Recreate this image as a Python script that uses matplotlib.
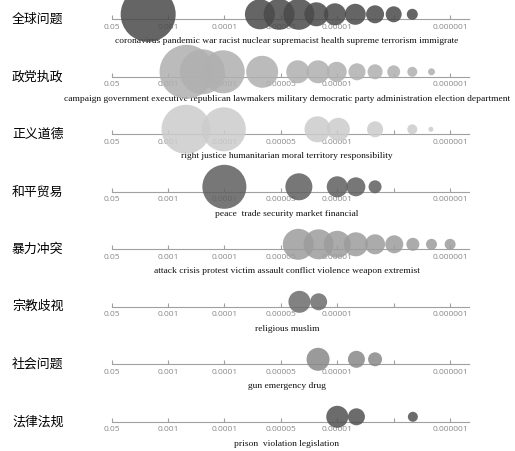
import numpy as np
import matplotlib.pyplot as plt

plt.rcParams['font.family'] = ['Noto Sans CJK SC', 'DejaVu Sans']

categories = ['全球问题', '政党执政', '正义道德', '和平贸易',
              '暴力冲突', '宗教歧视', '社会问题', '法律法规']

tick_labels = ['0.05', '0.001', '0.0001', '0.00005', '0.00001', '', '0.000001']

words = [
    'coronavirus pandemic war racist nuclear supremacist health supreme terrorism immigrate',
    'campaign government executive republican lawmakers military democratic party administration election department',
    'right justice humanitarian moral territory responsibility',
    'peace  trade security market financial',
    'attack crisis protest victim assault conflict violence weapon extremist',
    'religious muslim',
    'gun emergency drug',
    'prison  violation legislation',
]

# bubble positions on the tick scale (0 = 0.05 ... 6 = 0.000001)
pos = [
    [0.65, 2.63, 2.97, 3.32, 3.63, 3.96, 4.32, 4.67, 5.0, 5.33],
    [1.33, 1.61, 1.98, 2.67, 3.3, 3.66, 3.99, 4.35, 4.67, 5.0, 5.33, 5.67],
    [1.32, 1.99, 3.65, 4.02, 4.67, 5.33, 5.66],
    [2.0, 3.32, 4.0, 4.33, 4.67],
    [3.31, 3.67, 4.0, 4.33, 4.67, 5.01, 5.34, 5.67, 6.0],
    [3.33, 3.67],
    [3.66, 4.34, 4.67],
    [4.0, 4.34, 5.34],
]
# bubble diameters in pixels
size = [
    [55, 30, 31, 31, 24, 22, 21, 18, 16, 11],
    [54, 45, 43, 32, 23, 23, 20, 17, 15, 13, 10, 7],
    [49, 44, 26, 23, 16, 10, 5],
    [44, 27, 21, 19, 13],
    [31, 30, 27, 24, 20, 18, 13, 11, 11],
    [22, 17],
    [23, 17, 14],
    [22, 17, 10],
]
colors = ['#4a4a4a', '#b0b0b0', '#cccccc', '#5f5f5f',
          '#9c9c9c', '#6c6c6c', '#888888', '#525252']

W, H = 515, 451
fig = plt.figure(figsize=(W / 100, H / 100), dpi=100)

x0, x1 = 111.5, 469.3
ax_h = 40
for i, cat in enumerate(categories):
    y_axis = 19.3 + 57.5 * i
    ax = fig.add_axes([x0 / W, 1 - y_axis / H, (x1 - x0) / W, ax_h / H])
    ax.set_xlim(0, 6.34)
    ax.set_ylim(0, ax_h)
    for s in ['top', 'left', 'right']:
        ax.spines[s].set_visible(False)
    ax.spines['bottom'].set_color('#a0a0a0')
    ax.spines['bottom'].set_linewidth(0.8)
    ax.set_yticks([])
    ax.set_xticks(range(7))
    ax.set_xticklabels(tick_labels, fontfamily='Open Sans')
    ax.tick_params(axis='x', direction='in', length=3, width=0.8, color='#a0a0a0',
                   labelsize=6.1, labelcolor='#8a8a8a', pad=3.2)
    ax.patch.set_alpha(0)

    d = np.array(size[i]) * 0.72
    ax.scatter(pos[i], np.full(len(pos[i]), 5), s=d ** 2, color=colors[i],
               alpha=0.85, edgecolors='none', zorder=3, clip_on=False)

    ax.set_xlabel(words[i], fontfamily='Liberation Serif', fontsize=6.8, color='#111111')
    ax.xaxis.label.set_va('center')
    ax.xaxis.set_label_coords(0.49, -22 / ax_h)

    fig.text(12 / W, 1 - y_axis / H, cat, fontsize=9.3, va='center', ha='left')

fig.savefig('out.png', dpi=100)
